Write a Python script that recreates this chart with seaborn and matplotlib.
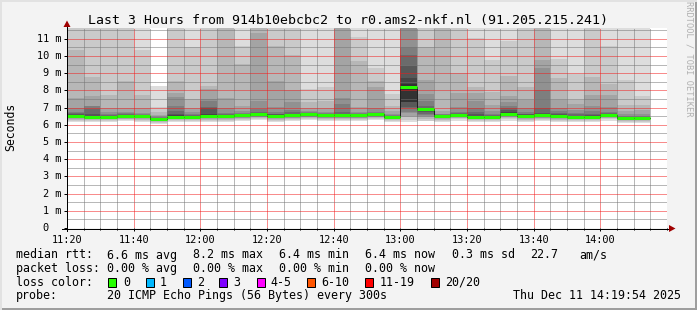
import numpy as np
import pandas as pd
import matplotlib
matplotlib.use("Agg")
import matplotlib.pyplot as plt
import matplotlib.transforms as mtransforms
from matplotlib.patches import Rectangle, Polygon
from matplotlib.lines import Line2D
from matplotlib.ticker import MultipleLocator
import seaborn as sns

# ---------------- data ----------------
# start of each 5-minute bin, minutes after 11:20
bin_start = [0, 5, 10, 15, 20, 25, 30, 35, 40, 45, 50, 55, 60, 65, 70, 75, 80,
             85, 90, 95, 100, 105, 110, 115, 120, 125, 130, 135, 140, 145, 150,
             155, 160, 165, 170]
bin_width = 5

median_ms = [6.50, 6.43, 6.45, 6.50, 6.50, 6.36, 6.48, 6.45, 6.50, 6.50, 6.55,
             6.60, 6.50, 6.55, 6.60, 6.55, 6.55, 6.55, 6.60, 6.48, 8.20, 6.90,
             6.50, 6.58, 6.45, 6.45, 6.65, 6.50, 6.55, 6.50, 6.45, 6.45, 6.58,
             6.40, 6.40]

# sorted pings 1..10 (fastest half) per bin, ms
ping_lo = [
    [6.18, 6.25, 6.30, 6.34, 6.38, 6.41, 6.43, 6.45, 6.46, 6.47],
    [6.15, 6.22, 6.27, 6.31, 6.34, 6.36, 6.38, 6.39, 6.40, 6.41],
    [6.16, 6.22, 6.28, 6.32, 6.35, 6.38, 6.40, 6.41, 6.42, 6.43],
    [6.20, 6.26, 6.31, 6.35, 6.38, 6.41, 6.43, 6.45, 6.46, 6.48],
    [6.19, 6.25, 6.30, 6.34, 6.38, 6.41, 6.43, 6.45, 6.46, 6.48],
    [6.06, 6.13, 6.18, 6.22, 6.26, 6.29, 6.31, 6.33, 6.34, 6.35],
    [6.17, 6.24, 6.29, 6.33, 6.36, 6.39, 6.41, 6.43, 6.44, 6.45],
    [6.16, 6.22, 6.27, 6.31, 6.35, 6.38, 6.40, 6.41, 6.42, 6.43],
    [6.18, 6.25, 6.30, 6.34, 6.38, 6.41, 6.43, 6.44, 6.45, 6.46],
    [6.19, 6.25, 6.30, 6.34, 6.38, 6.41, 6.43, 6.45, 6.46, 6.48],
    [6.22, 6.29, 6.34, 6.38, 6.42, 6.45, 6.48, 6.50, 6.51, 6.53],
    [6.27, 6.34, 6.39, 6.43, 6.47, 6.50, 6.53, 6.55, 6.56, 6.58],
    [6.19, 6.25, 6.30, 6.34, 6.38, 6.41, 6.43, 6.45, 6.46, 6.47],
    [6.22, 6.29, 6.34, 6.38, 6.42, 6.45, 6.48, 6.50, 6.51, 6.53],
    [6.27, 6.34, 6.39, 6.43, 6.47, 6.50, 6.53, 6.55, 6.57, 6.59],
    [6.22, 6.29, 6.34, 6.38, 6.42, 6.45, 6.48, 6.50, 6.52, 6.54],
    [6.22, 6.29, 6.34, 6.38, 6.42, 6.45, 6.48, 6.50, 6.52, 6.53],
    [6.22, 6.29, 6.34, 6.38, 6.42, 6.45, 6.48, 6.50, 6.52, 6.54],
    [6.27, 6.34, 6.39, 6.43, 6.47, 6.50, 6.53, 6.55, 6.57, 6.59],
    [6.17, 6.24, 6.29, 6.33, 6.36, 6.39, 6.41, 6.43, 6.45, 6.47],
    [6.18, 6.30, 6.45, 6.50, 6.70, 6.75, 7.00, 7.05, 7.30, 7.35],
    [6.20, 6.25, 6.35, 6.45, 6.50, 6.55, 6.65, 6.75, 6.80, 6.85],
    [6.19, 6.25, 6.30, 6.34, 6.38, 6.41, 6.43, 6.45, 6.47, 6.48],
    [6.25, 6.32, 6.37, 6.41, 6.45, 6.48, 6.51, 6.53, 6.55, 6.56],
    [6.16, 6.22, 6.27, 6.31, 6.35, 6.38, 6.40, 6.41, 6.42, 6.43],
    [6.16, 6.22, 6.27, 6.31, 6.35, 6.38, 6.40, 6.41, 6.42, 6.43],
    [6.25, 6.33, 6.40, 6.45, 6.50, 6.54, 6.57, 6.59, 6.61, 6.63],
    [6.19, 6.25, 6.30, 6.34, 6.38, 6.41, 6.43, 6.45, 6.46, 6.48],
    [6.22, 6.29, 6.34, 6.38, 6.42, 6.45, 6.48, 6.50, 6.52, 6.53],
    [6.19, 6.25, 6.30, 6.34, 6.38, 6.41, 6.43, 6.45, 6.46, 6.48],
    [6.16, 6.22, 6.27, 6.31, 6.35, 6.38, 6.40, 6.41, 6.42, 6.43],
    [6.16, 6.22, 6.27, 6.31, 6.35, 6.38, 6.40, 6.41, 6.42, 6.43],
    [6.25, 6.32, 6.37, 6.41, 6.45, 6.48, 6.51, 6.53, 6.55, 6.56],
    [6.12, 6.18, 6.23, 6.27, 6.30, 6.33, 6.35, 6.37, 6.38, 6.39],
    [6.12, 6.18, 6.23, 6.27, 6.30, 6.33, 6.35, 6.37, 6.38, 6.39],
]

# sorted pings 11..20 (slowest half) per bin, ms
ping_hi = [
    [6.53, 6.57, 6.62, 6.68, 6.75, 6.96, 7.54, 10.35, 12.2, 13.0],
    [6.46, 6.52, 6.60, 6.90, 7.08, 7.12, 7.70, 8.80, 12.4, 13.5],
    [6.48, 6.50, 6.54, 6.58, 6.65, 6.75, 7.00, 7.73, 12.1, 12.8],
    [6.52, 6.54, 6.57, 6.60, 6.66, 6.75, 7.00, 8.55, 12.0, 13.2],
    [6.52, 6.53, 6.55, 6.58, 6.62, 6.70, 6.97, 7.73, 10.35, 12.5],
    [6.37, 6.38, 6.39, 6.41, 6.43, 6.47, 6.56, 6.73, 7.05, 8.26],
    [6.52, 6.58, 6.65, 6.78, 7.10, 7.60, 7.85, 8.55, 12.3, 13.0],
    [6.47, 6.49, 6.52, 6.56, 6.62, 6.75, 6.96, 7.50, 10.50, 12.4],
    [6.55, 6.65, 7.00, 7.05, 7.36, 7.50, 8.06, 8.26, 12.2, 13.1],
    [6.52, 6.54, 6.57, 6.62, 6.70, 7.00, 7.58, 11.9, 12.4, 13.0],
    [6.57, 6.59, 6.61, 6.64, 6.68, 6.80, 7.12, 9.55, 10.58, 12.6],
    [6.62, 6.64, 6.68, 6.75, 6.90, 7.40, 11.35, 11.9, 12.5, 13.4],
    [6.53, 6.56, 6.60, 6.65, 6.75, 7.05, 8.55, 10.57, 12.1, 12.9],
    [6.57, 6.60, 6.65, 6.72, 6.85, 7.30, 8.00, 10.06, 12.3, 13.0],
    [6.61, 6.62, 6.64, 6.67, 6.72, 6.80, 6.95, 7.35, 8.10, 12.2],
    [6.56, 6.57, 6.59, 6.62, 6.67, 6.75, 6.95, 7.38, 8.20, 12.4],
    [6.57, 6.60, 6.65, 6.75, 7.20, 7.58, 11.8, 12.1, 12.6, 13.3],
    [6.56, 6.57, 6.59, 6.62, 6.67, 6.75, 7.05, 9.70, 11.10, 12.5],
    [6.61, 6.63, 6.65, 6.68, 6.75, 6.96, 8.20, 8.55, 9.28, 12.3],
    [6.49, 6.50, 6.52, 6.54, 6.58, 6.65, 6.80, 7.10, 7.80, 12.1],
    [8.35, 8.75, 9.40, 10.06, 10.55, 11.8, 12.2, 12.6, 13.0, 13.5],
    [6.95, 6.98, 7.00, 7.10, 7.38, 7.77, 8.60, 10.55, 12.2, 13.0],
    [6.51, 6.52, 6.54, 6.56, 6.60, 6.65, 6.80, 11.9, 12.5, 13.2],
    [6.60, 6.61, 6.64, 6.68, 6.75, 7.05, 7.83, 9.00, 11.9, 12.3],
    [6.48, 6.52, 6.60, 6.75, 7.00, 7.36, 7.83, 8.22, 11.05, 12.4],
    [6.47, 6.49, 6.51, 6.56, 6.65, 6.80, 7.13, 7.93, 9.77, 12.2],
    [6.70, 6.75, 6.85, 7.00, 7.10, 7.30, 7.67, 8.85, 10.90, 12.5],
    [6.53, 6.56, 6.60, 6.65, 6.75, 7.00, 7.45, 8.20, 12.1, 12.8],
    [6.58, 6.62, 6.70, 7.00, 8.02, 9.30, 9.77, 11.9, 12.4, 13.1],
    [6.52, 6.55, 6.60, 6.68, 6.80, 7.00, 7.45, 8.70, 9.80, 12.3],
    [6.47, 6.50, 6.53, 6.60, 6.70, 6.85, 7.20, 7.47, 8.95, 12.1],
    [6.47, 6.50, 6.56, 6.65, 6.80, 7.10, 7.73, 8.78, 12.0, 12.7],
    [6.60, 6.61, 6.64, 6.68, 6.75, 7.05, 7.75, 8.38, 10.57, 12.4],
    [6.41, 6.42, 6.44, 6.46, 6.50, 6.60, 6.80, 7.15, 8.60, 12.2],
    [6.41, 6.42, 6.44, 6.47, 6.52, 6.65, 6.85, 7.15, 7.70, 12.0],
]

x_tick_pos = [0, 20, 40, 60, 80, 100, 120, 140, 160]
x_tick_labels = ["11:20", "11:40", "12:00", "12:20", "12:40", "13:00", "13:20", "13:40", "14:00"]
y_tick_vals = [0, 1, 2, 3, 4, 5, 6, 7, 8, 9, 10, 11]

title = "Last 3 Hours from 914b10ebcbc2 to r0.ams2-nkf.nl (91.205.215.241)"
rtt_items = ["median rtt:", "6.6 ms avg", "8.2 ms max", "6.4 ms min", "6.4 ms now",
             "0.3 ms sd", "22.7", "am/s"]
loss_items = ["packet loss:", "0.00 % avg", "0.00 % max", "0.00 % min", "0.00 % now"]
loss_color_labels = ["0", "1", "2", "3", "4-5", "6-10", "11-19", "20/20"]
loss_colors = ["#26ff00", "#00b8ff", "#0059ff", "#7e00ff", "#ff00ff", "#ff5500", "#ff0000", "#a00000"]
probe_text = "20 ICMP Echo Pings (56 Bytes) every 300s"
date_text = "Thu Dec 11 14:19:54 2025"

# ---------------- style ----------------
W, H = 697, 310
sns.set_theme(style="white")
plt.rcParams["font.family"] = ["DejaVu Sans Mono", "DejaVu Sans"]
plt.rcParams["lines.scale_dashes"] = False
MONO = "DejaVu Sans Mono"
PX = 0.72  # one pixel in points at dpi 100

fig = plt.figure(figsize=(W / 100, H / 100), dpi=100)
fig.patch.set_facecolor("#f3f3f3")


def fx(p):
    return p / W


def fy(p):
    return 1 - p / H


ax = fig.add_axes([fx(67), fy(228), 600 / W, 200 / H])
ax.set_facecolor("white")
ymax = 200 / 17.2
ax.set_xlim(0, 180)
ax.set_ylim(0, ymax)
for s in ax.spines.values():
    s.set_visible(False)

# ---------------- smoke ----------------
lo = np.array(ping_lo)
hi = np.array(ping_hi)
x = np.array(bin_start, dtype=float)
half = 10
for i in range(1, half + 1):
    g = int(190 / half * (half - i)) + 50
    col = (g / 255, g / 255, g / 255)
    bottom = lo[:, i - 1]
    top = hi[:, half - i]
    ax.bar(x, top - bottom, bottom=bottom, width=bin_width, align="edge",
           color=col, linewidth=0, antialiased=False, zorder=1)

# ---------------- grid ----------------
ax.xaxis.set_major_locator(MultipleLocator(20))
ax.xaxis.set_minor_locator(MultipleLocator(5))
ax.yaxis.set_major_locator(MultipleLocator(1))
ax.yaxis.set_minor_locator(MultipleLocator(0.5))
ax.set_axisbelow(False)
DOT = (0, (PX, PX))
ax.grid(which="major", color=(0.95, 0.1, 0.1, 0.55), linestyle=DOT, linewidth=PX,
        zorder=2)
ax.grid(which="minor", color=(0.45, 0.45, 0.45, 0.45), linestyle=DOT, linewidth=PX,
        zorder=2)

# ---------------- median ----------------
step_df = pd.DataFrame({"t": list(bin_start) + [bin_start[-1] + bin_width],
                        "median": list(median_ms) + [median_ms[-1]]})
sns.lineplot(data=step_df, x="t", y="median", drawstyle="steps-post", estimator=None,
             color="#202020", linewidth=PX, ax=ax, zorder=3)
ax.hlines(median_ms, x, x + bin_width, colors=loss_colors[0], linewidth=3 * PX, zorder=4)
ax.set_xlabel("")
ax.set_ylabel("")

# ---------------- ticks ----------------
ax.set_xticks(x_tick_pos)
ax.set_xticklabels(x_tick_labels, fontsize=7.4, family=MONO, color="black")
ax.tick_params(axis="x", which="major", direction="out", length=3 * PX, width=PX,
               color="black", pad=2.6, bottom=True)
ax.tick_params(axis="x", which="minor", direction="out", length=2 * PX, width=PX,
               color="black", bottom=True)
ax.set_yticks(y_tick_vals)
ax.set_yticklabels([])
ax.tick_params(axis="y", which="major", direction="out", length=3 * PX, width=PX,
               color="black", left=True)
ax.tick_params(axis="y", which="minor", length=0)

ylab_tf = mtransforms.blended_transform_factory(fig.transFigure, ax.transData)
for v in y_tick_vals:
    if v == 0:
        fig.text(fx(48.6), v, "0", transform=ylab_tf, ha="right", va="center",
                 fontsize=7.4, family=MONO, color="black")
    else:
        fig.text(fx(61), v, f"{v} m", transform=ylab_tf, ha="right", va="center",
                 fontsize=7.4, family=MONO, color="black")

# axis lines and arrows
fig.add_artist(Line2D([fx(62), fx(670)], [fy(228.5), fy(228.5)], transform=fig.transFigure,
                      color="black", lw=PX, antialiased=False, zorder=6))
fig.add_artist(Line2D([fx(67.0), fx(67.0)], [fy(231), fy(25)], transform=fig.transFigure,
                      color="black", lw=PX, antialiased=False, zorder=6))
fig.add_artist(Polygon([[fx(67.0), fy(20.5)], [fx(63.5), fy(27.0)], [fx(70.5), fy(27.0)]],
                       closed=True, transform=fig.transFigure, facecolor="#a00000",
                       edgecolor="none", zorder=7))
fig.add_artist(Polygon([[fx(675.5), fy(228.5)], [fx(669.0), fy(225.0)], [fx(669.0), fy(232.0)]],
                       closed=True, transform=fig.transFigure, facecolor="#a00000",
                       edgecolor="none", zorder=7))

# ---------------- texts ----------------
fig.text(fx(347.5), fy(24), title, ha="center", va="baseline", fontsize=9.5,
         family=MONO, color="black")
fig.text(fx(10.5), fy(127), "Seconds", rotation=90, ha="center", va="center",
         fontsize=8.3, family=MONO, color="black")
fig.text(fx(688.5), fy(59), "RRDTOOL / TOBI OETIKER", rotation=270, ha="center",
         va="center", fontsize=6.2, family=MONO, color="#b0b0b0")

LF = 8.4
rtt_x = [16, 106.7, 193.3, 279.3, 365, 451.7, 530, 579.3]
for t, px in zip(rtt_items, rtt_x):
    fig.text(fx(px), fy(258.5), t, ha="left", va="baseline", fontsize=LF, family=MONO, color="black")
loss_x = [16, 106.7, 193.3, 279.3, 365]
for t, px in zip(loss_items, loss_x):
    fig.text(fx(px), fy(272.0), t, ha="left", va="baseline", fontsize=LF, family=MONO, color="black")
fig.text(fx(16), fy(285.7), "loss color:", ha="left", va="baseline", fontsize=LF, family=MONO, color="black")
box_x = [108.3, 145.7, 182.7, 219.3, 256.7, 307.3, 365.0, 431.0]
lab_x = [123.3, 160.0, 197.0, 233.0, 270.0, 321.0, 380.0, 445.5]
for lbl, c, bx, lx in zip(loss_color_labels, loss_colors, box_x, lab_x):
    fig.add_artist(Rectangle((fx(bx), fy(286.5)), 8 / W, 8.5 / H, transform=fig.transFigure,
                             facecolor=c, edgecolor="black", linewidth=PX, zorder=5))
    fig.text(fx(lx), fy(285.7), lbl, ha="left", va="baseline", fontsize=LF, family=MONO, color="black")
fig.text(fx(16), fy(299.3), "probe:", ha="left", va="baseline", fontsize=LF, family=MONO, color="black")
fig.text(fx(106.7), fy(299.3), probe_text, ha="left", va="baseline", fontsize=LF, family=MONO, color="black")
fig.text(fx(513.3), fy(299.3), date_text, ha="left", va="baseline", fontsize=LF, family=MONO, color="black")

# frame
fig.add_artist(Rectangle((0, fy(310)), 1, 2.5 / H, transform=fig.transFigure,
                         facecolor="#9e9e9e", edgecolor="none", zorder=8))
fig.add_artist(Rectangle((fx(694.5), 0), 2.5 / W, 1, transform=fig.transFigure,
                         facecolor="#9e9e9e", edgecolor="none", zorder=8))
fig.add_artist(Rectangle((0, fy(2)), 1, 2 / H, transform=fig.transFigure,
                         facecolor="#e2e2e2", edgecolor="none", zorder=8))
fig.add_artist(Rectangle((0, 0), 2 / W, 1, transform=fig.transFigure,
                         facecolor="#e2e2e2", edgecolor="none", zorder=8))

fig.savefig("out.png", dpi=100, facecolor=fig.get_facecolor())
